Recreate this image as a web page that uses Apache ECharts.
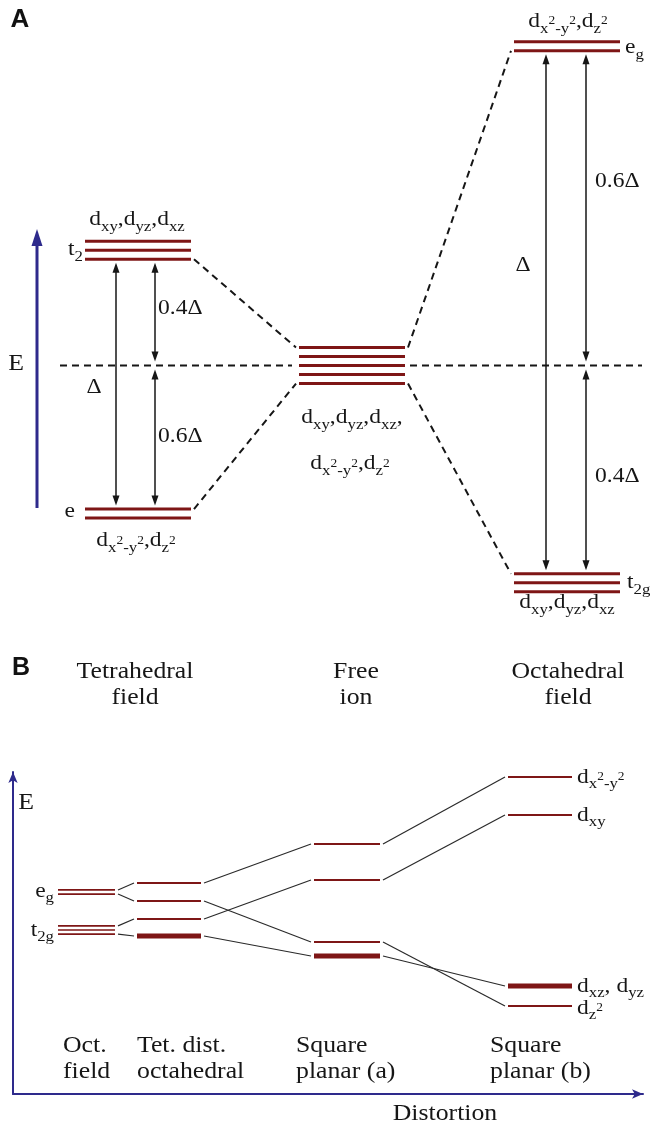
<!DOCTYPE html>
<html>
<head>
<meta charset="utf-8">
<script src="https://cdn.jsdelivr.net/npm/echarts@6/dist/echarts.min.js"></script>
<style>
html,body{margin:0;padding:0;background:#ffffff;}
#c{width:650px;height:1123px;}
</style>
</head>
<body>
<div id="c"></div>
<script>
// ================= DATA =================
// Panel A: crystal-field splitting, energies in units of Δo (barycentre = 0)
const aColumns = ['Tetrahedral\nfield', 'Free\nion', 'Octahedral\nfield'];
const aLevelNames = ['t2', 'e', 'free ion', 'eg', 't2g'];
const aLevelCol = [0, 0, 1, 2, 2];
const aLevelEnergy = [0.215, -0.276, 0, 0.595, -0.405];
const aLevelDegeneracy = [3, 2, 5, 2, 3];
const aBarycentre = 0;
const aCorrelations = [[0, 2], [1, 2], [2, 3], [2, 4]];

// Panel B: correlation of levels with distortion (arbitrary energy units)
const bColumns = ['Oct.\nfield', 'Tet. dist.\noctahedral', 'Square\nplanar (a)', 'Square\nplanar (b)'];
const bLevelCol = [0, 0, 1, 1, 1, 1, 2, 2, 2, 2, 3, 3, 3, 3];
const bLevelEnergy = [20.2, 16.4, 21.1, 19.3, 17.5, 15.8, 25.0, 21.4, 15.2, 13.8, 31.7, 27.9, 10.8, 8.8];
const bLevelDegeneracy = [2, 3, 1, 1, 1, 2, 1, 1, 1, 2, 1, 1, 2, 1];
const bCorrelations = [[0, 2], [0, 3], [1, 4], [1, 5], [2, 6], [3, 8], [4, 7], [5, 9], [6, 10], [7, 11], [8, 13], [9, 12]];

// ================= STYLE / LAYOUT =================
const SERIF = "'Liberation Serif','Times New Roman',serif";
const SANS = "'Liberation Sans',Arial,sans-serif";
const INK = '#161616';
const LEVEL = '#7e1616';
const NAVY = '#2e2a8c';
const LINK = '#2a2a2a';
const SX = 1.12;

const RICH = {
  n: {fontSize: 21, lineHeight: 30, fontFamily: SERIF, fill: INK},
  s: {fontSize: 15, lineHeight: 15, verticalAlign: 'bottom', fontFamily: SERIF, fill: INK},
  p: {fontSize: 12, lineHeight: 12, verticalAlign: 'middle', fontFamily: SERIF, fill: INK}
};
const T_D3 = '{n|d}{s|xy}{n|,d}{s|yz}{n|,d}{s|xz}';
const T_D2 = '{n|d}{s|x}{p|2}{s|-y}{p|2}{n|,d}{s|z}{p|2}';

const LA = {
  cols: [[85, 191], [299, 405], [514, 620]],
  spacing: 9, lw: 3, linkGap: 3, arrowGap: 2, baryGap: 4,
  bary: [[60, 292], [410, 642]],
  head: {w: 7, l: 10},
  arrows: [
    {x: 116, from: 1, to: 0},
    {x: 155, from: 0, to: 'bary'},
    {x: 155, from: 'bary', to: 1},
    {x: 546, from: 4, to: 3},
    {x: 586, from: 3, to: 'bary'},
    {x: 586, from: 'bary', to: 4}
  ],
  labels: [
    {ref: 0, x: 137, dy: -31, align: 'center', text: T_D3},
    {ref: 0, x: 83, dy: -1, align: 'right', text: '{n|t}{s|2}'},
    {ref: 1, x: 75, dy: -2, align: 'right', text: '{n|e}'},
    {ref: 1, x: 136, dy: 27, align: 'center', text: T_D2},
    {ref: 2, x: 352, dy: 52, align: 'center', text: T_D3 + '{n|,}'},
    {ref: 2, x: 350, dy: 98, align: 'center', text: T_D2},
    {ref: 3, x: 568, dy: -25, align: 'center', text: T_D2},
    {ref: 3, x: 625, dy: 1, align: 'left', text: '{n|e}{s|g}'},
    {ref: 4, x: 627, dy: 0, align: 'left', text: '{n|t}{s|2g}'},
    {ref: 4, x: 567, dy: 20, align: 'center', text: T_D3},
    {ref: 'bary', x: 94, dy: 22, align: 'center', text: '{n|Δ}'},
    {ref: 'bary', x: 158, dy: -57, align: 'left', text: '{n|0.4Δ}'},
    {ref: 'bary', x: 158, dy: 71, align: 'left', text: '{n|0.6Δ}'},
    {ref: 'bary', x: 595, dy: -184, align: 'left', text: '{n|0.6Δ}'},
    {ref: 'bary', x: 523, dy: -100, align: 'center', text: '{n|Δ}'},
    {ref: 'bary', x: 595, dy: 111, align: 'left', text: '{n|0.4Δ}'}
  ]
};

const LB = {
  cols: [[58, 115], [137, 201], [314, 380], [508, 572]],
  stackedCol: 0, spacing: 4.1, stackLw: 1.7, thinLw: 2.2, thickLw: 5, gap: 3,
  labels: [
    {ref: 0, x: 54, dy: -1, align: 'right', text: '{n|e}{s|g}'},
    {ref: 1, x: 54, dy: 0, align: 'right', text: '{n|t}{s|2g}'},
    {ref: 10, x: 577, dy: 0, align: 'left', text: '{n|d}{s|x}{p|2}{s|-y}{p|2}'},
    {ref: 11, x: 577, dy: 0, align: 'left', text: '{n|d}{s|xy}'},
    {ref: 12, x: 577, dy: 0, align: 'left', text: '{n|d}{s|xz}{n|, d}{s|yz}'},
    {ref: 13, x: 577, dy: 2, align: 'left', text: '{n|d}{s|z}{p|2}'}
  ]
};

function textEl(x, y, text, align) {
  return {
    type: 'text', x: x, y: y, scaleX: SX, silent: true,
    style: {legacy: false, text: text, rich: RICH, align: align, verticalAlign: 'middle',
            fill: INK, fontSize: 21, fontFamily: SERIF}
  };
}
function stackOff(n, sp) { return (n - 1) / 2 * sp; }

// ---------- Panel A renderers ----------
function renderLevelsA(params, api) {
  const col = api.value(0), E = api.value(1), n = api.value(2);
  const p1 = api.coord([LA.cols[col][0], E]), p2 = api.coord([LA.cols[col][1], E]);
  const ch = [];
  for (let k = 0; k < n; k++) {
    const y = p1[1] + (k - (n - 1) / 2) * LA.spacing;
    ch.push({type: 'line', shape: {x1: p1[0], y1: y, x2: p2[0], y2: y},
             style: {stroke: LEVEL, lineWidth: LA.lw}});
  }
  return {type: 'group', children: ch};
}
function renderLinksA(params, api) {
  const a = api.value(0), b = api.value(1);
  const ca = aLevelCol[a], cb = aLevelCol[b];
  const right = cb > ca;
  const pa = api.coord([LA.cols[ca][right ? 1 : 0], aLevelEnergy[a]]);
  const pb = api.coord([LA.cols[cb][right ? 0 : 1], aLevelEnergy[b]]);
  const down = pb[1] > pa[1] ? 1 : -1;
  const ya = pa[1] + down * stackOff(aLevelDegeneracy[a], LA.spacing);
  const yb = pb[1] - down * stackOff(aLevelDegeneracy[b], LA.spacing);
  const sx = right ? 1 : -1;
  return {type: 'line', shape: {x1: pa[0] + sx * LA.linkGap, y1: ya, x2: pb[0] - sx * LA.linkGap, y2: yb},
          style: {stroke: INK, lineWidth: 2, lineDash: [7, 5]}};
}
function renderBaryA(params, api) {
  const E = api.value(0);
  const ch = LA.bary.map(function (seg) {
    const p1 = api.coord([seg[0], E]), p2 = api.coord([seg[1], E]);
    return {type: 'line', shape: {x1: p1[0], y1: p1[1], x2: p2[0], y2: p2[1]},
            style: {stroke: INK, lineWidth: 2, lineDash: [7, 5]}};
  });
  return {type: 'group', children: ch};
}
function refInfoA(api, ref, x) {
  if (ref === 'bary') return {y: api.coord([x, aBarycentre])[1], off: LA.baryGap};
  return {y: api.coord([x, aLevelEnergy[ref]])[1],
          off: stackOff(aLevelDegeneracy[ref], LA.spacing) + LA.lw / 2 + LA.arrowGap};
}
function renderArrowsA(params, api) {
  const ar = LA.arrows[api.value(0)];
  const x = api.coord([ar.x, 0])[0];
  const f = refInfoA(api, ar.from, ar.x), t = refInfoA(api, ar.to, ar.x);
  const up = t.y < f.y ? -1 : 1;
  const y1 = f.y + up * f.off, y2 = t.y - up * t.off;
  const w = LA.head.w, l = LA.head.l;
  return {type: 'group', children: [
    {type: 'line', shape: {x1: x, y1: y1 + up * l * 0.7, x2: x, y2: y2 - up * l * 0.7},
     style: {stroke: INK, lineWidth: 1.5}},
    {type: 'polygon', shape: {points: [[x, y1], [x - w / 2, y1 + up * l], [x + w / 2, y1 + up * l]]},
     style: {fill: INK}},
    {type: 'polygon', shape: {points: [[x, y2], [x - w / 2, y2 - up * l], [x + w / 2, y2 - up * l]]},
     style: {fill: INK}}
  ]};
}
function renderLabelsA(params, api) {
  const lb = LA.labels[api.value(0)];
  const E = lb.ref === 'bary' ? aBarycentre : aLevelEnergy[lb.ref];
  const p = api.coord([lb.x, E]);
  return textEl(p[0], p[1] + lb.dy, lb.text, lb.align);
}

// ---------- Panel B renderers ----------
function renderLevelsB(params, api) {
  const col = api.value(0), E = api.value(1), n = api.value(2);
  const p1 = api.coord([LB.cols[col][0], E]), p2 = api.coord([LB.cols[col][1], E]);
  const ch = [];
  if (col === LB.stackedCol) {
    for (let k = 0; k < n; k++) {
      const y = p1[1] + (k - (n - 1) / 2) * LB.spacing;
      ch.push({type: 'line', shape: {x1: p1[0], y1: y, x2: p2[0], y2: y},
               style: {stroke: LEVEL, lineWidth: LB.stackLw}});
    }
  } else {
    ch.push({type: 'line', shape: {x1: p1[0], y1: p1[1], x2: p2[0], y2: p2[1]},
             style: {stroke: LEVEL, lineWidth: n > 1 ? LB.thickLw : LB.thinLw}});
  }
  return {type: 'group', children: ch};
}
function renderLinksB(params, api) {
  const a = api.value(0), b = api.value(1);
  const ca = bLevelCol[a], cb = bLevelCol[b];
  const pa = api.coord([LB.cols[ca][1], bLevelEnergy[a]]);
  const pb = api.coord([LB.cols[cb][0], bLevelEnergy[b]]);
  const down = pb[1] > pa[1] ? 1 : -1;
  let ya = pa[1], yb = pb[1];
  if (ca === LB.stackedCol) ya += down * stackOff(bLevelDegeneracy[a], LB.spacing);
  return {type: 'line', shape: {x1: pa[0] + LB.gap, y1: ya, x2: pb[0] - LB.gap, y2: yb},
          style: {stroke: LINK, lineWidth: 1.2}};
}
function renderLabelsB(params, api) {
  const lb = LB.labels[api.value(0)];
  const p = api.coord([lb.x, bLevelEnergy[lb.ref]]);
  return textEl(p[0], p[1] + lb.dy, lb.text, lb.align);
}

// ---------- static annotations ----------
function plainText(x, y, text, align, opts) {
  return Object.assign({
    type: 'text', x: x, y: y, scaleX: SX, silent: true,
    style: {legacy: false, text: text, align: align, verticalAlign: 'middle', fill: INK,
            fontSize: 23, lineHeight: 26, fontFamily: SERIF}
  }, opts || {});
}
const graphics = [
  {type: 'text', x: 20, y: 20, silent: true,
   style: {legacy: false, text: 'A', fontSize: 26, fontWeight: 'bold', fontFamily: SANS, fill: '#111',
           align: 'center', verticalAlign: 'middle'}},
  {type: 'text', x: 21, y: 668, silent: true,
   style: {legacy: false, text: 'B', fontSize: 25, fontWeight: 'bold', fontFamily: SANS, fill: '#111',
           align: 'center', verticalAlign: 'middle'}},
  // energy arrow of panel A
  {type: 'line', silent: true, shape: {x1: 37, y1: 508, x2: 37, y2: 243}, style: {stroke: NAVY, lineWidth: 3}},
  {type: 'polygon', silent: true, shape: {points: [[37, 229], [31.5, 246], [42.5, 246]]}, style: {fill: NAVY}},
  plainText(16, 364, 'E', 'center', {}),
  plainText(135, 685, aColumns[0], 'center'),
  plainText(356, 685, aColumns[1], 'center'),
  plainText(568, 685, aColumns[2], 'center'),
  plainText(26, 803, 'E', 'center'),
  plainText(63, 1059, bColumns[0], 'left'),
  plainText(137, 1059, bColumns[1], 'left'),
  plainText(296, 1059, bColumns[2], 'left'),
  plainText(490, 1059, bColumns[3], 'left'),
  plainText(445, 1114, 'Distortion', 'center')
];

// ================= CHART =================
const chart = echarts.init(document.getElementById('c'), null, {renderer: 'canvas'});
const hiddenAxis = {show: false, splitLine: {show: false}};
const navyAxisLine = {show: true, symbol: ['none', 'arrow'], symbolSize: [7, 11],
                      lineStyle: {color: NAVY, width: 2}};
chart.setOption({
  animation: false,
  backgroundColor: '#ffffff',
  grid: [
    {left: 0, width: 650, top: 16.8, height: 617},
    {left: 13, width: 630, top: 772, height: 322}
  ],
  xAxis: [
    Object.assign({type: 'value', gridIndex: 0, min: 0, max: 650}, hiddenAxis),
    {type: 'value', gridIndex: 1, min: 13, max: 643, axisLine: navyAxisLine,
     axisTick: {show: false}, axisLabel: {show: false}, splitLine: {show: false}}
  ],
  yAxis: [
    Object.assign({type: 'value', gridIndex: 0, min: -0.5, max: 0.65}, hiddenAxis),
    {type: 'value', gridIndex: 1, min: 0, max: 32.2, axisLine: navyAxisLine,
     axisTick: {show: false}, axisLabel: {show: false}, splitLine: {show: false}}
  ],
  graphic: graphics,
  series: [
    {type: 'custom', name: 'barycentre', xAxisIndex: 0, yAxisIndex: 0, silent: true,
     renderItem: renderBaryA, data: [[aBarycentre]], encode: {x: -1, y: 0}},
    {type: 'custom', name: 'A correlations', xAxisIndex: 0, yAxisIndex: 0, silent: true,
     renderItem: renderLinksA, data: aCorrelations.map(function (c) { return [c[0], c[1]]; })},
    {type: 'custom', name: 'A levels', xAxisIndex: 0, yAxisIndex: 0, silent: true,
     renderItem: renderLevelsA,
     data: aLevelEnergy.map(function (e, i) { return [aLevelCol[i], e, aLevelDegeneracy[i]]; }),
     encode: {x: -1, y: 1}},
    {type: 'custom', name: 'A splittings', xAxisIndex: 0, yAxisIndex: 0, silent: true,
     renderItem: renderArrowsA, data: LA.arrows.map(function (a, i) { return [i]; })},
    {type: 'custom', name: 'A labels', xAxisIndex: 0, yAxisIndex: 0, silent: true,
     renderItem: renderLabelsA, data: LA.labels.map(function (a, i) { return [i]; })},
    {type: 'custom', name: 'B correlations', xAxisIndex: 1, yAxisIndex: 1, silent: true,
     renderItem: renderLinksB, data: bCorrelations.map(function (c) { return [c[0], c[1]]; })},
    {type: 'custom', name: 'B levels', xAxisIndex: 1, yAxisIndex: 1, silent: true,
     renderItem: renderLevelsB,
     data: bLevelEnergy.map(function (e, i) { return [bLevelCol[i], e, bLevelDegeneracy[i]]; }),
     encode: {x: -1, y: 1}},
    {type: 'custom', name: 'B labels', xAxisIndex: 1, yAxisIndex: 1, silent: true,
     renderItem: renderLabelsB, data: LB.labels.map(function (a, i) { return [i]; })}
  ]
});
</script>
</body>
</html>
